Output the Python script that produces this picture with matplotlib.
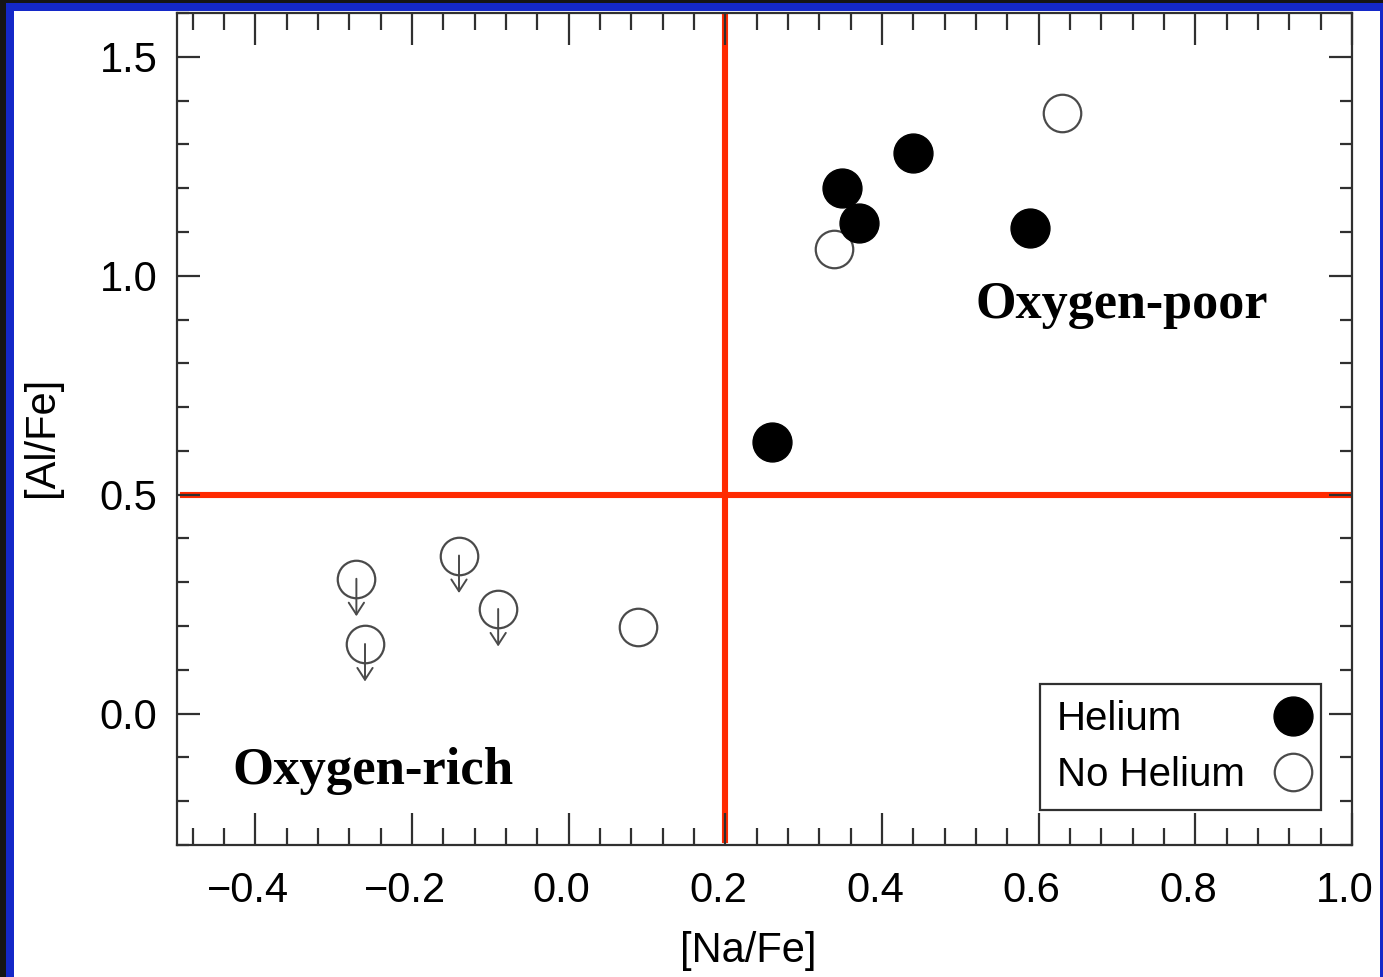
import matplotlib
matplotlib.use("Agg")
import matplotlib.pyplot as plt
from matplotlib.patches import Rectangle
from matplotlib.ticker import MultipleLocator
from matplotlib.transforms import offset_copy, ScaledTranslation

# ---- data ----
helium_na = [0.259, 0.349, 0.370, 0.439, 0.589]
helium_al = [0.620, 1.200, 1.120, 1.281, 1.110]

nohe_na = [0.339, 0.630, 0.089]
nohe_al = [1.060, 1.371, 0.197]

limit_na = [-0.271, -0.260, -0.140, -0.090]
limit_al = [0.308, 0.159, 0.361, 0.239]

na_divider = 0.2
al_divider = 0.5

W, H = 1383, 977
fig = plt.figure(figsize=(W / 100, H / 100), dpi=100)
fig.patch.set_facecolor("#151515")
# blue frame and white inner area
fig.patches.append(Rectangle((6 / W, 0), (W - 6) / W, (H - 3) / H,
                             transform=fig.transFigure, facecolor="#1428C8",
                             edgecolor="none", zorder=-10))
fig.patches.append(Rectangle((14 / W, 0), (1380 - 14) / W, (H - 11) / H,
                             transform=fig.transFigure, facecolor="white",
                             edgecolor="none", zorder=-9))

ax = fig.add_axes([177 / W, 1 - 845 / H, (1352 - 177) / W, (845 - 13) / H])
ax.set_facecolor("white")
ax.set_xlim(-0.5, 1.0)
ax.set_ylim(-0.3, 1.6)

sans = ["Liberation Sans", "DejaVu Sans"]
serif = ["Liberation Serif", "DejaVu Serif"]
grey = "#4a4a4a"

# red dividing lines
ax.axvline(na_divider, ymin=0.006, ymax=1.0, color="#ff2a00", lw=4.4, zorder=1)
ax.axhline(al_divider, xmin=0.005, xmax=0.9966, color="#ff2a00", lw=4.4, zorder=1)

# points
ax.plot(helium_na, helium_al, "o", ms=28, color="black", mec="black",
        label="Helium", zorder=4)
ax.plot(nohe_na, nohe_al, "o", ms=27, mfc="white", mec=grey, mew=1.6,
        label="No Helium", zorder=3)
ax.plot(limit_na, limit_al, "o", ms=27, mfc="white", mec=grey, mew=1.6,
        zorder=3)

trans_down = offset_copy(ax.transData, fig=fig, x=0, y=-27, units="points")
for xv, yv in zip(limit_na, limit_al):
    ax.annotate("", xy=(xv, yv), xycoords=trans_down,
                xytext=(xv, yv), textcoords="data",
                arrowprops=dict(arrowstyle="->,head_length=0.85,head_width=0.55",
                                color=grey, lw=1.4, shrinkA=0, shrinkB=0),
                zorder=5)

# region labels
ax.text(0.519, 0.903, "Oxygen-poor", family=serif, fontweight="bold",
        fontsize=37.5, ha="left", va="baseline")
ax.text(-0.429, -0.161, "Oxygen-rich", family=serif, fontweight="bold",
        fontsize=38, ha="left", va="baseline")

# axes styling
for sp in ax.spines.values():
    sp.set_linewidth(1.6)
    sp.set_color("#303030")

ax.xaxis.set_major_locator(MultipleLocator(0.2))
ax.xaxis.set_minor_locator(MultipleLocator(0.04))
ax.yaxis.set_major_locator(MultipleLocator(0.5))
ax.yaxis.set_minor_locator(MultipleLocator(0.1))
ax.tick_params(which="both", direction="in", top=True, right=True,
               color="#303030", width=1.6)
ax.tick_params(axis="x", which="major", length=23, pad=18.5)
ax.tick_params(axis="x", which="minor", length=12)
ax.tick_params(axis="y", which="major", length=16.5, pad=14)
ax.tick_params(axis="y", which="minor", length=8.6)
ax.tick_params(labelsize=30)
fmt = plt.FuncFormatter(lambda v, p: f"{v:.1f}".replace("-", "\u2212"))
ax.xaxis.set_major_formatter(fmt)
ax.yaxis.set_major_formatter(fmt)
shift = ScaledTranslation(-5 / 72, 0, fig.dpi_scale_trans)
for lab in ax.get_xticklabels():
    lab.set_family(sans)
    lab.set_transform(lab.get_transform() + shift)
for lab in ax.get_yticklabels():
    lab.set_family(sans)

ax.set_xlabel("[Na/Fe]", family=sans, fontsize=30)
ax.set_ylabel("[Al/Fe]", family=sans, fontsize=30)
ax.xaxis.set_label_coords(0.486, -0.103)
ax.yaxis.set_label_coords(-0.098, 0.49)

leg = ax.legend(loc="lower right", bbox_to_anchor=(0.9736, 0.042),
                borderaxespad=0, markerfirst=False, fancybox=False,
                framealpha=1, edgecolor="#303030", handlelength=0.6,
                handletextpad=0.9, borderpad=0.4, labelspacing=0.45,
                prop={"family": sans, "size": 29})
leg.get_frame().set_linewidth(1.6)

# left-align legend texts while keeping markers in one column
try:
    fig.canvas.draw()
    r = fig.canvas.get_renderer()
    widths = [t.get_window_extent(r).width for t in leg.get_texts()]
    maxw = max(widths)
    rows = leg._legend_handle_box.get_children()[0].get_children()
    for row, w in zip(rows, widths):
        row.sep += (maxw - w) * 72.0 / fig.dpi
except Exception:
    pass

fig.savefig("out.png", dpi=100, facecolor=fig.get_facecolor())
